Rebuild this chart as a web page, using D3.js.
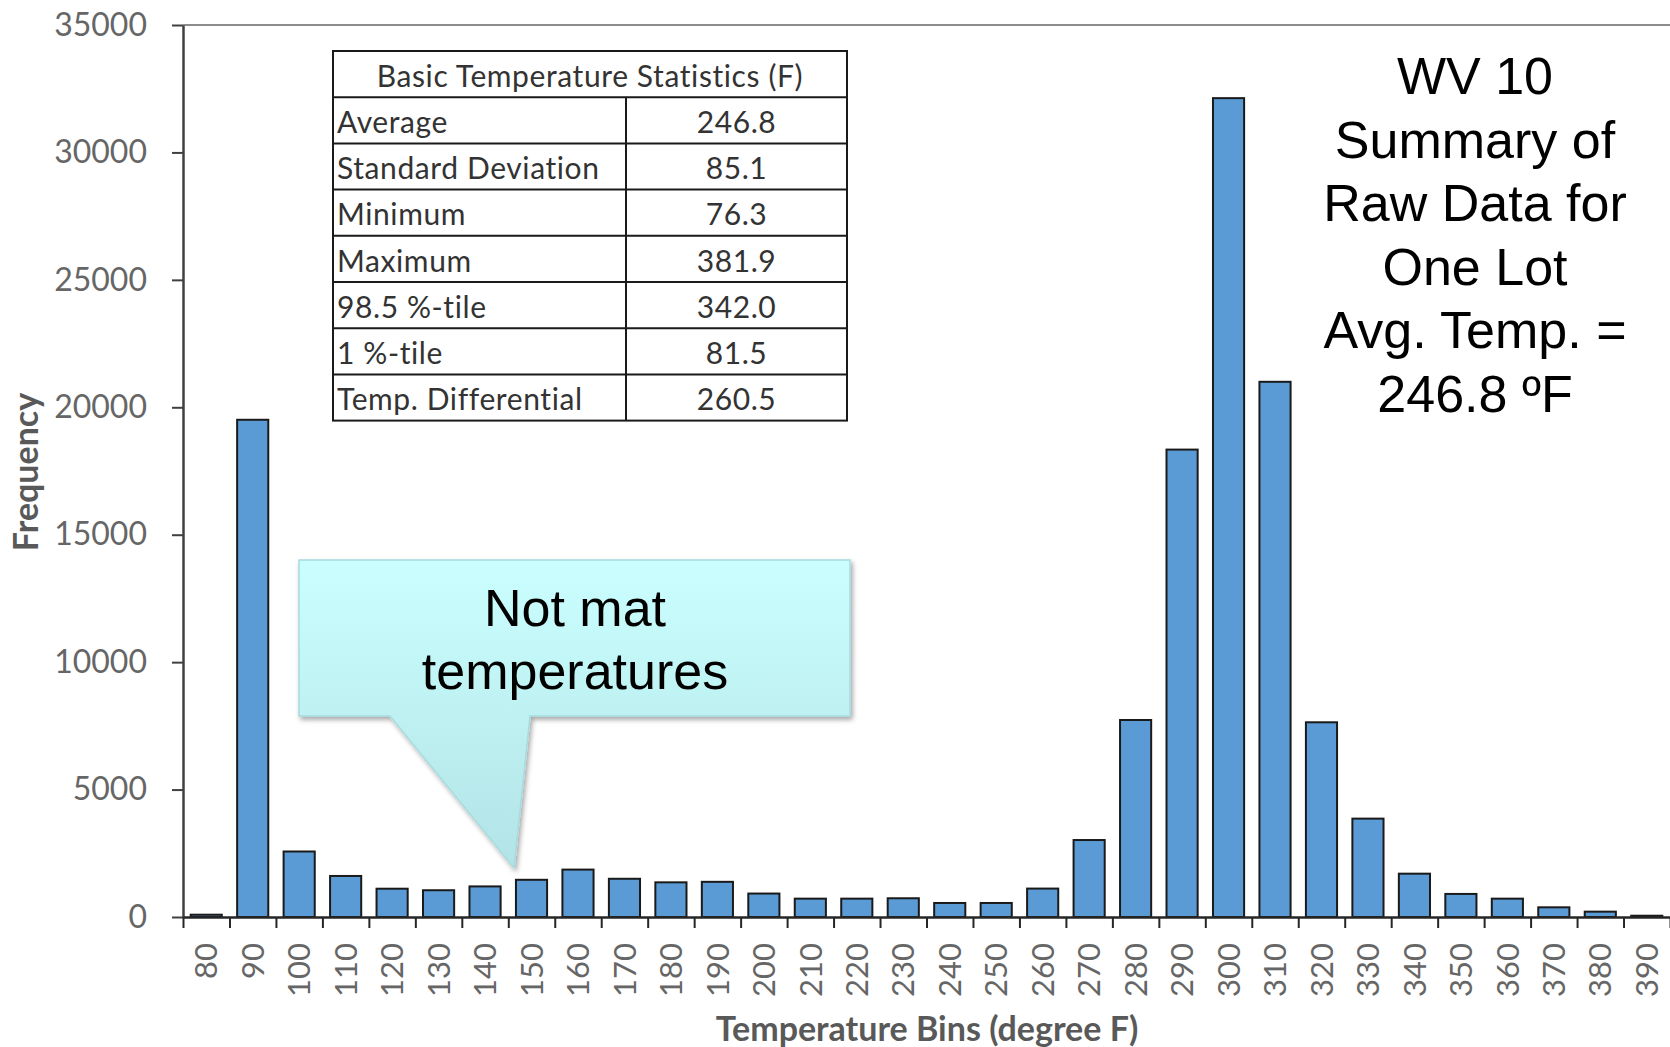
<!DOCTYPE html>
<html>
<head>
<meta charset="utf-8">
<script src="https://cdn.jsdelivr.net/npm/d3@7"></script>
<style>
  body { margin: 0; background: #fff; }
  svg { display: block; }
</style>
</head>
<body>
<div id="chart-container"></div>
<script>
// temperature bins (degree F) and counts
const bins = [80, 90, 100, 110, 120, 130, 140, 150, 160, 170, 180, 190, 200, 210, 220, 230,
    240, 250, 260, 270, 280, 290, 300, 310, 320, 330, 340, 350, 360, 370, 380, 390];
const counts = [90, 19510, 2570, 1610, 1110, 1050, 1200, 1460, 1860, 1500, 1360, 1380, 920, 720, 720, 735,
    550, 550, 1115, 3020, 7730, 18340, 32130, 21000, 7640, 3860, 1700, 905, 720, 380, 210, 50];
const yTicks = [0, 5000, 10000, 15000, 20000, 25000, 30000, 35000];

const statTitle = "Basic Temperature Statistics (F)";
const statLabels = ["Average", "Standard Deviation", "Minimum", "Maximum", "98.5 %-tile", "1 %-tile", "Temp. Differential"];
const statValues = ["246.8", "85.1", "76.3", "381.9", "342.0", "81.5", "260.5"];

const summaryLines = ["WV 10", "Summary of", "Raw Data for", "One Lot", "Avg. Temp. =", "246.8 \u00baF"];
const calloutLines = ["Not mat", "temperatures"];

const svgWidth = 1670;
const svgHeight = 1047;
const margin = { top: 25, right: 0, bottom: 130, left: 183 };
const plotBottom = svgHeight - margin.bottom; // 917

const data = bins.map((b, i) => ({ bin: b, count: counts[i] }));

const svg = d3.select("#chart-container")
    .append("svg")
    .attr("width", svgWidth)
    .attr("height", svgHeight);

const defs = svg.append("defs");
const grad = defs.append("linearGradient")
    .attr("id", "calloutFill")
    .attr("x1", 0).attr("y1", 0).attr("x2", 0).attr("y2", 1);
grad.append("stop").attr("offset", "0%").attr("stop-color", "#cbffff");
grad.append("stop").attr("offset", "100%").attr("stop-color", "#b2e3e6");
const shadow = defs.append("filter").attr("id", "shadow")
    .attr("x", "-10%").attr("y", "-10%").attr("width", "130%").attr("height", "130%");
shadow.append("feDropShadow")
    .attr("dx", 2).attr("dy", 3).attr("stdDeviation", 2.5)
    .attr("flood-color", "#000").attr("flood-opacity", 0.35);

const x = d3.scaleBand()
    .domain(bins)
    .range([margin.left, svgWidth - margin.right])
    .paddingInner(0.33)
    .paddingOuter(0.165);

const xEdges = d3.scaleLinear()
    .domain([0, bins.length])
    .range([margin.left, svgWidth - margin.right]);

const y = d3.scaleLinear()
    .domain([0, 35000])
    .range([plotBottom, margin.top]);

// top border of plot area
svg.append("line")
    .attr("x1", margin.left).attr("x2", svgWidth)
    .attr("y1", y(35000)).attr("y2", y(35000))
    .attr("stroke", "#8c8c8c")
    .attr("stroke-width", 2);

// bars
svg.selectAll(".bar")
    .data(data)
    .enter()
    .append("rect")
    .attr("class", "bar")
    .attr("x", d => x(d.bin))
    .attr("y", d => y(d.count))
    .attr("width", x.bandwidth())
    .attr("height", d => y(0) - y(d.count))
    .attr("fill", "#5b9bd5")
    .attr("stroke", "#1a1a1a")
    .attr("stroke-width", 2);

// y axis
const yAxis = svg.append("g")
    .attr("transform", `translate(${margin.left},0)`)
    .call(d3.axisLeft(y).tickValues(yTicks).tickFormat(d3.format("d")).tickSize(11).tickPadding(25).tickSizeOuter(0));
yAxis.select(".domain").attr("stroke", "#404040").attr("stroke-width", 2.5);
yAxis.selectAll(".tick line").attr("stroke", "#404040").attr("stroke-width", 2);
yAxis.selectAll("text")
    .attr("fill", "#666")
    .attr("font-family", "Lato, 'Open Sans', sans-serif")
    .attr("font-size", "32px");

// x axis: tick marks at bin edges
const xTickAxis = svg.append("g")
    .attr("transform", `translate(0,${plotBottom})`)
    .call(d3.axisBottom(xEdges).tickValues(d3.range(0, bins.length + 1)).tickFormat("").tickSize(11).tickSizeOuter(0));
xTickAxis.select(".domain").attr("stroke", "#262626").attr("stroke-width", 2.5);
xTickAxis.selectAll(".tick line").attr("stroke", "#262626").attr("stroke-width", 2);

// x axis: rotated bin labels
const xAxis = svg.append("g")
    .attr("transform", `translate(0,${plotBottom})`)
    .call(d3.axisBottom(x).tickSize(0));
xAxis.select(".domain").remove();
xAxis.selectAll("text")
    .attr("transform", "rotate(-90)")
    .attr("text-anchor", "end")
    .attr("x", -26)
    .attr("y", 0)
    .attr("dy", "0.36em")
    .attr("fill", "#666")
    .attr("font-family", "Lato, 'Open Sans', sans-serif")
    .attr("font-size", "31px");

// axis titles
svg.append("text")
    .attr("x", 927)
    .attr("y", 1041)
    .attr("text-anchor", "middle")
    .attr("fill", "#595959")
    .attr("font-family", "Lato, 'Open Sans', sans-serif")
    .attr("font-weight", "bold")
    .attr("font-size", "34px")
    .text("Temperature Bins (degree F)");

svg.append("text")
    .attr("transform", "translate(38,472) rotate(-90)")
    .attr("text-anchor", "middle")
    .attr("fill", "#595959")
    .attr("font-family", "Lato, 'Open Sans', sans-serif")
    .attr("font-weight", "bold")
    .attr("font-size", "34px")
    .text("Frequency");

// statistics table
const table = { left: 333, right: 847, split: 626, top: 51, rowH: 46.2 };
const tg = svg.append("g");
const nRows = statLabels.length + 1;
tg.append("rect")
    .attr("x", table.left).attr("y", table.top)
    .attr("width", table.right - table.left)
    .attr("height", table.rowH * nRows)
    .attr("fill", "#fff")
    .attr("stroke", "#1a1a1a")
    .attr("stroke-width", 2);
tg.selectAll(".rowline")
    .data(d3.range(1, nRows))
    .enter()
    .append("line")
    .attr("x1", table.left).attr("x2", table.right)
    .attr("y1", d => table.top + d * table.rowH)
    .attr("y2", d => table.top + d * table.rowH)
    .attr("stroke", "#1a1a1a")
    .attr("stroke-width", 2);
tg.append("line")
    .attr("x1", table.split).attr("x2", table.split)
    .attr("y1", table.top + table.rowH)
    .attr("y2", table.top + table.rowH * nRows)
    .attr("stroke", "#1a1a1a")
    .attr("stroke-width", 2);

const tableFont = "Lato, 'Open Sans', sans-serif";
tg.append("text")
    .attr("x", (table.left + table.right) / 2)
    .attr("y", table.top + table.rowH / 2)
    .attr("dy", "0.42em")
    .attr("text-anchor", "middle")
    .attr("fill", "#333")
    .attr("font-family", tableFont)
    .attr("font-size", "30px")
    .attr("letter-spacing", "0.6px")
    .text(statTitle);
tg.selectAll(".statLabel")
    .data(statLabels)
    .enter()
    .append("text")
    .attr("x", table.left + 4)
    .attr("y", (d, i) => table.top + (i + 1.5) * table.rowH)
    .attr("dy", "0.42em")
    .attr("fill", "#333")
    .attr("font-family", tableFont)
    .attr("font-size", "30px")
    .attr("letter-spacing", "0.6px")
    .text(d => d);
tg.selectAll(".statValue")
    .data(statValues)
    .enter()
    .append("text")
    .attr("x", (table.split + table.right) / 2)
    .attr("y", (d, i) => table.top + (i + 1.5) * table.rowH)
    .attr("dy", "0.42em")
    .attr("text-anchor", "middle")
    .attr("fill", "#333")
    .attr("font-family", tableFont)
    .attr("font-size", "30px")
    .attr("letter-spacing", "0.6px")
    .text(d => d);

// summary text at right
svg.append("g").selectAll("text")
    .data(summaryLines)
    .enter()
    .append("text")
    .attr("x", 1475)
    .attr("y", (d, i) => 94 + i * 63.6)
    .attr("text-anchor", "middle")
    .attr("fill", "#000")
    .attr("font-family", "'Liberation Sans', Arial, sans-serif")
    .attr("font-size", "52px")
    .text(d => d);

// callout
const co = { left: 299, right: 850, top: 560, bottom: 716, baseL: 390, baseR: 530, tipX: 514, tipY: 868 };
svg.append("path")
    .attr("d", `M${co.left},${co.top} H${co.right} V${co.bottom} H${co.baseR} L${co.tipX},${co.tipY} L${co.baseL},${co.bottom} H${co.left} Z`)
    .attr("fill", "url(#calloutFill)")
    .attr("stroke", "#a6dcdf")
    .attr("stroke-width", 1.5)
    .attr("filter", "url(#shadow)");
svg.append("g").selectAll("text")
    .data(calloutLines)
    .enter()
    .append("text")
    .attr("x", 575)
    .attr("y", (d, i) => 626 + i * 63)
    .attr("text-anchor", "middle")
    .attr("fill", "#000")
    .attr("font-family", "'Liberation Sans', Arial, sans-serif")
    .attr("font-size", "52px")
    .text(d => d);
</script>
</body>
</html>
